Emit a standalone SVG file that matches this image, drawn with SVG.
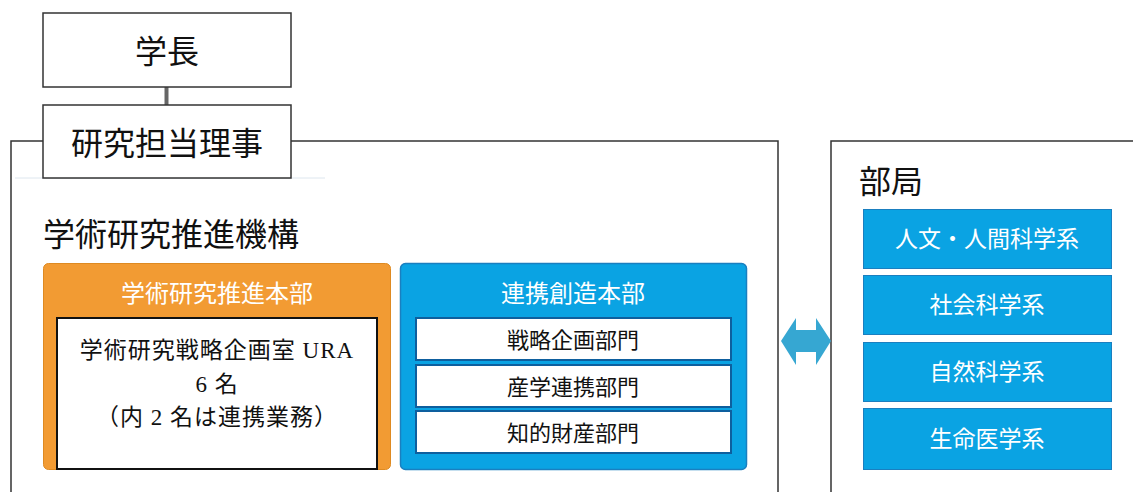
<svg xmlns="http://www.w3.org/2000/svg" width="1133" height="492" viewBox="0 0 1133 492">
<style>
.frame{fill:none;stroke:#333;stroke-width:1.5}
.box{fill:#fff;stroke:#333;stroke-width:1.5}
.sans{font-family:"Noto Sans CJK JP","Noto Sans",sans-serif}
.serif{font-family:"Liberation Serif","Noto Sans CJK JP",serif;font-size:23px;fill:#111;letter-spacing:1px}
.big{font-size:32px;fill:#111}
.wt{font-size:24px;fill:#fff}
.dt{font-size:23px;fill:#fff}
.bt{font-size:22px;fill:#111}
.dept{fill:#0AA3E3;stroke:#1A7FC0;stroke-width:1}
.sub{fill:#fff;stroke:#0E5F9E;stroke-width:2}
</style>
<g id="frames">
<path class="frame" d="M43 141 H11 V492 M291 141 H778 V492"/>
<path class="frame" d="M831 492 V141 H1140"/>
<line x1="15" y1="178" x2="325" y2="178" stroke="#dde6ee" stroke-width="1"/>
</g>
<g id="connectors">
<line x1="166.5" y1="87" x2="166.5" y2="105" stroke="#666" stroke-width="4"/>
<polygon points="781,341 796,318 796,330 816,330 816,318 831,341 816,365 816,352 796,352 796,365" fill="#36A7D2"/>
</g>
<g id="president">
<rect class="box" x="43" y="13" width="248" height="74"/>
<text class="sans big" x="167" y="63" text-anchor="middle">学長</text>
</g>
<g id="director">
<rect class="box" x="43" y="105" width="248" height="73"/>
<text class="sans big" x="167" y="155" text-anchor="middle">研究担当理事</text>
</g>
<g id="organization-title">
<text class="sans big" x="43" y="246">学術研究推進機構</text>
</g>
<g id="research-hq">
<rect x="43.5" y="263.5" width="347" height="206" rx="5" fill="#F29B33" stroke="#DE8A22" stroke-width="1"/>
<text class="sans wt" x="217" y="302" text-anchor="middle">学術研究推進本部</text>
<rect x="57" y="318" width="320" height="151" fill="#fff" stroke="#111" stroke-width="2"/>
<text class="serif" x="217" y="358" text-anchor="middle">学術研究戦略企画室 URA</text>
<text class="serif" x="217" y="392" text-anchor="middle">6 名</text>
<text class="serif" x="217" y="425" text-anchor="middle">（内 2 名は連携業務）</text>
</g>
<g id="collab-hq">
<rect x="400.5" y="263.5" width="346" height="206" rx="5" fill="#0AA3E3" stroke="#1A7FC0" stroke-width="1.5"/>
<text class="sans wt" x="573" y="302" text-anchor="middle">連携創造本部</text>
<rect class="sub" x="416" y="318" width="315" height="42"/>
<text class="sans bt" x="573" y="348" text-anchor="middle">戦略企画部門</text>
<rect class="sub" x="416" y="365" width="315" height="42"/>
<text class="sans bt" x="573" y="395" text-anchor="middle">産学連携部門</text>
<rect class="sub" x="416" y="411" width="315" height="42"/>
<text class="sans bt" x="573" y="441" text-anchor="middle">知的財産部門</text>
</g>
<g id="departments">
<text class="sans big" x="859" y="193">部局</text>
<rect class="dept" x="863.5" y="209.5" width="248" height="59"/>
<text class="sans dt" x="987" y="247" text-anchor="middle">人文・人間科学系</text>
<rect class="dept" x="863.5" y="275.5" width="248" height="59"/>
<text class="sans dt" x="987" y="313" text-anchor="middle">社会科学系</text>
<rect class="dept" x="863.5" y="342.5" width="248" height="59"/>
<text class="sans dt" x="987" y="380" text-anchor="middle">自然科学系</text>
<rect class="dept" x="863.5" y="408.5" width="248" height="61"/>
<text class="sans dt" x="987" y="447" text-anchor="middle">生命医学系</text>
</g>
</svg>
